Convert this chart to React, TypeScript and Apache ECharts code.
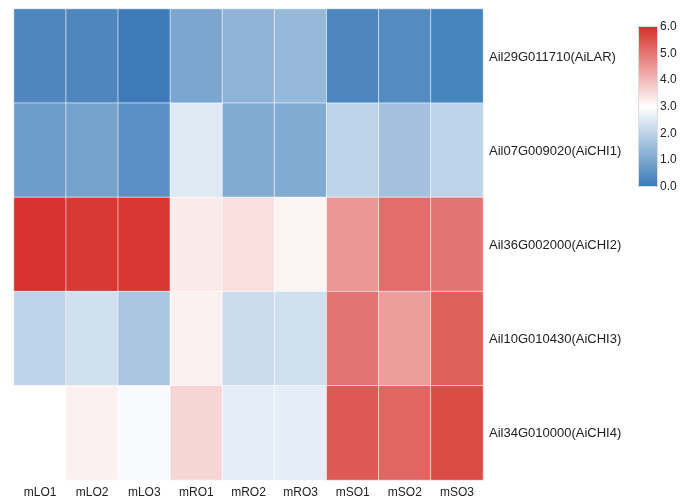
import React, { useEffect, useRef } from "react";
import * as echarts from "echarts";

const columns = ["mLO1", "mLO2", "mLO3", "mRO1", "mRO2", "mRO3", "mSO1", "mSO2", "mSO3"];
const genes = [
  "Ail29G011710(AiLAR)",
  "Ail07G009020(AiCHI1)",
  "Ail36G002000(AiCHI2)",
  "Ail10G010430(AiCHI3)",
  "Ail34G010000(AiCHI4)",
];
const rowLAR = [0.3, 0.3, 0.05, 1.0, 1.3, 1.4, 0.3, 0.4, 0.2];
const rowCHI1 = [0.8, 0.9, 0.5, 2.5, 1.1, 1.1, 2.0, 1.6, 2.0];
const rowCHI2 = [5.95, 5.85, 5.9, 3.3, 3.45, 3.15, 4.5, 5.1, 5.0];
const rowCHI3 = [2.0, 2.3, 1.7, 3.2, 2.2, 2.3, 5.0, 4.4, 5.3];
const rowCHI4 = [3.0, 3.2, 2.9, 3.6, 2.6, 2.6, 5.4, 5.2, 5.6];
const rows = [rowLAR, rowCHI1, rowCHI2, rowCHI3, rowCHI4];
const scaleMin = 0;
const scaleMax = 6;
const palette = ["#3a7ab8", "#ffffff", "#d62f2a"];

export default function App() {
  const ref = useRef<HTMLDivElement>(null);
  useEffect(() => {
    if (!ref.current) return;
    const chart = echarts.init(ref.current, undefined, { renderer: "svg" });
    const data: [number, number, number][] = [];
    rows.forEach((r, yi) => r.forEach((v, xi) => data.push([xi, yi, v])));
    const font = "Liberation Sans, Arial, sans-serif";
    chart.setOption({
      animation: false,
      grid: [
        { left: 14, right: 200, top: 9, bottom: 19, containLabel: false },
        { left: 638, width: 19, top: 26, height: 160, containLabel: false },
      ],
      xAxis: [
        {
          type: "category",
          data: columns,
          gridIndex: 0,
          position: "bottom",
          axisLine: { show: false },
          axisTick: { show: false },
          splitLine: { show: false },
          axisLabel: { color: "#222", fontSize: 12, fontFamily: font, margin: 6 },
        },
        { type: "value", gridIndex: 1, show: false, min: 0, max: 1 },
      ],
      yAxis: [
        {
          type: "category",
          data: genes,
          gridIndex: 0,
          inverse: true,
          position: "right",
          axisLine: { show: false },
          axisTick: { show: false },
          splitLine: { show: false },
          axisLabel: { color: "#222", fontSize: 13, fontFamily: font, margin: 6 },
        },
        {
          type: "value",
          gridIndex: 1,
          position: "right",
          min: scaleMin,
          max: scaleMax,
          interval: 1,
          axisLine: { show: false },
          axisTick: { show: true, length: 4, lineStyle: { color: "#444" } },
          splitLine: { show: false },
          axisLabel: {
            color: "#222",
            fontSize: 12,
            fontFamily: font,
            margin: 3,
            formatter: (v: number) => v.toFixed(1),
          },
        },
      ],
      visualMap: {
        type: "continuous",
        min: scaleMin,
        max: scaleMax,
        seriesIndex: 0,
        show: false,
        inRange: { color: palette },
      },
      graphic: [
        {
          type: "rect",
          left: 638,
          top: 26,
          z: 10,
          shape: { width: 19, height: 160 },
          style: {
            fill: new echarts.graphic.LinearGradient(0, 0, 0, 1, [
              { offset: 0, color: palette[2] },
              { offset: 0.5, color: palette[1] },
              { offset: 1, color: palette[0] },
            ]),
            stroke: "#dddddd",
            lineWidth: 1,
          },
        },
      ],
      series: [
        {
          type: "heatmap",
          xAxisIndex: 0,
          yAxisIndex: 0,
          data,
          itemStyle: { borderColor: "rgba(255,255,255,0.6)", borderWidth: 1 },
          emphasis: { disabled: true },
        },
      ],
    });
    return () => chart.dispose();
  }, []);
  return (
    <div
      ref={ref}
      style={{ position: "fixed", left: 0, top: 0, width: 683, height: 499 }}
    />
  );
}
